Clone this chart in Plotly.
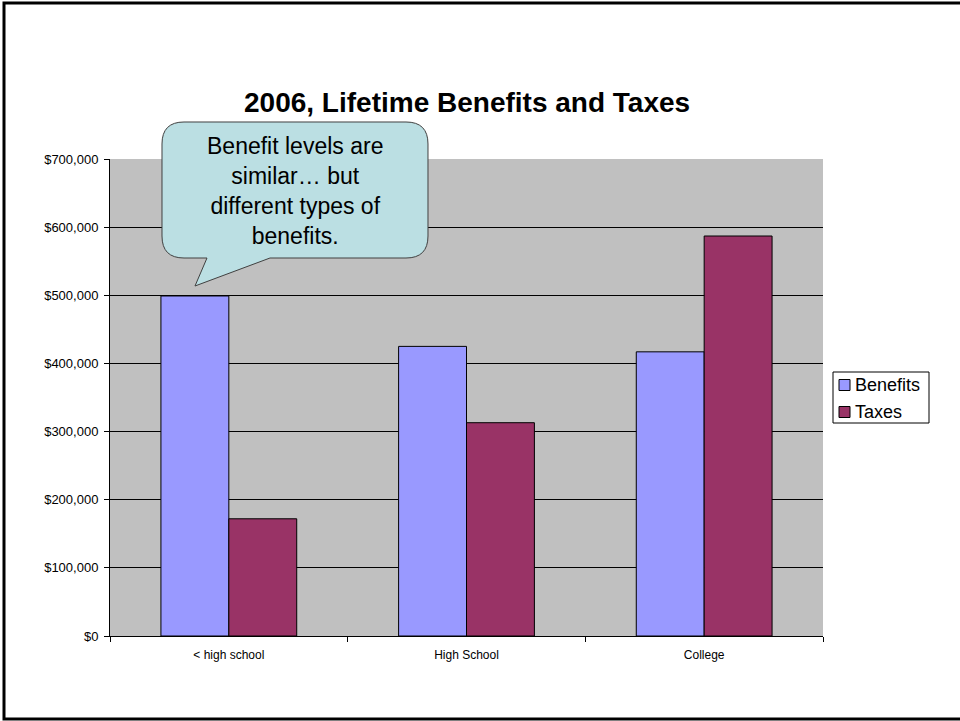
import plotly.graph_objects as go

# Data
categories = ["< high school", "High School", "College"]
benefits = [499000, 425000, 417000]
taxes = [172000, 313000, 587000]
y_ticks = [0, 100000, 200000, 300000, 400000, 500000, 600000, 700000]
series_names = ["Benefits", "Taxes"]
series_colors = ["#9999FF", "#993366"]

W, H = 960, 721
ML, MR, MT, MB = 110, 137, 159, 85
PW = W - ML - MR
PH = H - MT - MB
FONT = "Liberation Sans, Arial, sans-serif"


def px(x):
    return (x - ML) / PW


def py(y):
    return (H - MB - y) / PH


def path(points):
    out = []
    for cmd, *coords in points:
        pts = [f"{px(coords[i]):.5f},{py(coords[i + 1]):.5f}" for i in range(0, len(coords), 2)]
        out.append(cmd + " " + " ".join(pts))
    return " ".join(out) + " Z"


fig = go.Figure()
for name, vals, col in zip(series_names, [benefits, taxes], series_colors):
    fig.add_trace(go.Bar(
        name=name, x=categories, y=vals,
        marker=dict(color=col, line=dict(color="#000000", width=1)),
    ))

# speech-bubble callout
r = 22
x0, x1, y0, y1 = 162, 428, 122, 258
bubble = path([
    ("M", x0 + r, y0),
    ("L", x1 - r, y0),
    ("Q", x1, y0, x1, y0 + r),
    ("L", x1, y1 - r),
    ("Q", x1, y1, x1 - r, y1),
    ("L", 270, y1),
    ("L", 195, 286),
    ("L", 207, y1),
    ("L", x0 + r, y1),
    ("Q", x0, y1, x0, y1 - r),
    ("L", x0, y0 + r),
    ("Q", x0, y0, x0 + r, y0),
])

shapes = [
    dict(type="path", xref="paper", yref="paper", path=bubble,
         fillcolor="#BBDFE3", line=dict(color="#404040", width=1), layer="above"),
    # slide frame
    dict(type="rect", xref="paper", yref="paper",
         x0=px(4), x1=px(975), y0=py(719), y1=py(3),
         line=dict(color="#000000", width=3), fillcolor="rgba(0,0,0,0)", layer="above"),
    # legend box
    dict(type="rect", xref="paper", yref="paper",
         x0=px(833), x1=px(929), y0=py(423), y1=py(372),
         line=dict(color="#000000", width=1), fillcolor="#FFFFFF", layer="above"),
]

annotations = [
    dict(xref="paper", yref="paper", x=px(295), y=py(191), showarrow=False,
         text="Benefit levels are<br>similar… but<br>different types of<br>benefits.",
         font=dict(family=FONT, size=23, color="#000000"), align="center",
         xanchor="center", yanchor="middle"),
    dict(xref="paper", yref="paper", x=0.5, y=py(102), showarrow=False,
         text="<b>2006, Lifetime Benefits and Taxes</b>",
         font=dict(family=FONT, size=28, color="#000000"),
         xanchor="center", yanchor="middle"),
]

# legend entries: swatch + label
for i, (name, col) in enumerate(zip(series_names, series_colors)):
    cy = 385 + 27 * i
    shapes.append(dict(type="rect", xref="paper", yref="paper",
                       x0=px(839), x1=px(850), y0=py(cy + 5.5), y1=py(cy - 5.5),
                       fillcolor=col, line=dict(color="#000000", width=1), layer="above"))
    annotations.append(dict(xref="paper", yref="paper", x=px(853), y=py(cy),
                            text=name, showarrow=False, xanchor="left", yanchor="middle",
                            font=dict(family=FONT, size=18, color="#000000")))

fig.update_layout(
    width=W, height=H,
    margin=dict(l=ML, r=MR, t=MT, b=MB),
    paper_bgcolor="#FFFFFF", plot_bgcolor="#C0C0C0",
    barmode="group", bargap=0.4286, bargroupgap=0,
    font=dict(family=FONT, color="#000000"),
    showlegend=False,
    shapes=shapes, annotations=annotations,
)
fig.update_yaxes(
    range=[0, 700000], tickvals=y_ticks, tickformat="$,.0f",
    showgrid=True, gridcolor="#000000", gridwidth=1,
    showline=True, linecolor="#000000", linewidth=1,
    ticks="outside", ticklen=5, tickcolor="#000000",
    tickfont=dict(family=FONT, size=13, color="#000000"),
    ticklabelstandoff=3,
    zeroline=False, fixedrange=True,
)
fig.update_xaxes(
    showline=True, linecolor="#000000", linewidth=1,
    ticks="outside", ticklen=5, tickcolor="#000000", tickson="boundaries",
    tickfont=dict(family=FONT, size=12, color="#000000"),
    ticklabelstandoff=8,
    showgrid=False, fixedrange=True,
)

fig.write_html("out.html")
